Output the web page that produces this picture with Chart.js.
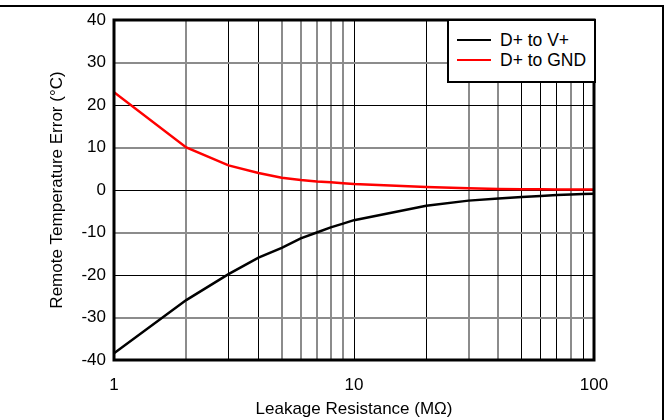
<!DOCTYPE html>
<html lang="en">
<head>
  <meta charset="UTF-8">
  <title>Remote Temperature Error vs Leakage Resistance</title>
  <script src="https://cdn.jsdelivr.net/npm/chart.js"></script>
  <style>
    body {
      margin: 0;
      padding: 0;
      background: #fff;
      font-family: "Liberation Sans", Arial, sans-serif;
    }
    .wrap {
      position: relative;
      width: 669px;
      height: 420px;
    }
    .frame {
      position: absolute;
      left: 0;
      top: 5px;
      width: 662px;
      height: 415px;
      border-top: 2px solid #000;
      border-right: 2px solid #000;
      pointer-events: none;
    }
    .legend {
      position: absolute;
      left: 447px;
      top: 19px;
      width: 145px;
      height: 51px;
      border: 2px solid #000;
      background: #fff;
      font-size: 17.5px;
      padding-top: 9px;
      box-sizing: content-box;
    }
    .legend .row {
      height: 20px;
      line-height: 20px;
      display: flex;
      align-items: center;
    }
    .legend .swatch {
      width: 34px;
      height: 2px;
      margin-left: 8px;
      margin-right: 9px;
    }
  </style>
</head>
<body>
  <div class="wrap">
    <canvas id="chart" width="669" height="420"></canvas>
    <div class="frame"></div>
    <div class="legend" id="legend"></div>
  </div>

  <script>
    // Leakage resistance (MOhm)
    const resistance = [1, 2, 3, 4, 5, 6, 7, 8, 9, 10, 20, 30, 40, 50, 60, 70, 80, 90, 100];
    // Remote temperature error (degC)
    const toVplus = [-38.4, -25.9, -19.8, -15.9, -13.6, -11.4, -10.0, -8.8, -7.9, -7.1, -3.7, -2.5, -2.0, -1.65, -1.4, -1.2, -1.05, -0.95, -0.9];
    const toGnd = [23, 10, 5.8, 4.0, 2.9, 2.35, 2.0, 1.8, 1.6, 1.4, 0.7, 0.4, 0.25, 0.2, 0.15, 0.12, 0.1, 0.1, 0.1];

    const seriesNames = ['D+ to V+', 'D+ to GND'];
    const seriesColors = ['#000000', '#ff0000'];

    const xTickValues = [1, 2, 3, 4, 5, 6, 7, 8, 9, 10, 20, 30, 40, 50, 60, 70, 80, 90, 100];
    const xTickLabels = { 1: '1', 10: '10', 100: '100' };
    const xGrayLines = [2, 5, 6, 7, 8, 9, 30, 40, 80];

    // legend box
    const legendEl = document.getElementById('legend');
    seriesNames.forEach(function(name, i) {
      const row = document.createElement('div');
      row.className = 'row';
      row.innerHTML = '<span class="swatch" style="background:' + seriesColors[i] + '"></span><span>' + name + '</span>';
      legendEl.appendChild(row);
    });

    // thick frame around the plot area
    const plotFrame = {
      id: 'plotFrame',
      afterDatasetsDraw(chart) {
        const a = chart.chartArea;
        const c = chart.ctx;
        c.save();
        c.strokeStyle = '#000';
        c.lineWidth = 3;
        c.strokeRect(a.left, a.top, a.right - a.left, a.bottom - a.top);
        c.restore();
      }
    };

    Chart.defaults.font.family = '"Liberation Sans", Arial, sans-serif';
    Chart.defaults.font.size = 17;
    Chart.defaults.color = '#000';

    new Chart(document.getElementById('chart').getContext('2d'), {
      type: 'line',
      data: {
        labels: resistance,
        datasets: [
          {
            label: seriesNames[0],
            data: resistance.map((x, i) => ({ x: x, y: toVplus[i] })),
            borderColor: seriesColors[0],
            borderWidth: 2.5,
            pointRadius: 0,
            fill: false
          },
          {
            label: seriesNames[1],
            data: resistance.map((x, i) => ({ x: x, y: toGnd[i] })),
            borderColor: seriesColors[1],
            borderWidth: 2.5,
            pointRadius: 0,
            fill: false
          }
        ]
      },
      options: {
        responsive: false,
        animation: false,
        layout: { padding: { left: 0, right: 75, top: 20, bottom: 0 } },
        plugins: {
          legend: { display: false },
          tooltip: { enabled: false }
        },
        scales: {
          x: {
            type: 'logarithmic',
            min: 1,
            max: 100,
            afterBuildTicks: function(scale) {
              scale.ticks = xTickValues.map(v => ({ value: v }));
            },
            afterFit: function(scale) { scale.height = 60; },
            ticks: {
              autoSkip: false,
              maxRotation: 0,
              padding: 15,
              callback: function(value) { return xTickLabels[value] || ''; }
            },
            grid: {
              drawTicks: false,
              color: ctx => xGrayLines.includes(ctx.tick && ctx.tick.value) ? '#8c8c8c' : '#000',
              lineWidth: ctx => xGrayLines.includes(ctx.tick && ctx.tick.value) ? 2 : 1
            },
            border: { display: false },
            title: {
              display: true,
              text: 'Leakage Resistance (MΩ)',
              padding: { top: 6, bottom: 0 }
            }
          },
          y: {
            min: -40,
            max: 40,
            afterFit: function(scale) { scale.width = 114; },
            ticks: { stepSize: 10, padding: 8 },
            grid: {
              drawTicks: false,
              color: ctx => (ctx.tick && ctx.tick.value % 20 !== 0) ? '#8c8c8c' : '#000',
              lineWidth: ctx => (ctx.tick && ctx.tick.value % 20 !== 0) ? 2 : 1
            },
            border: { display: false },
            title: {
              display: true,
              text: 'Remote Temperature Error (°C)',
              padding: { top: 47, bottom: 0 }
            }
          }
        }
      },
      plugins: [plotFrame]
    });
  </script>
</body>
</html>
